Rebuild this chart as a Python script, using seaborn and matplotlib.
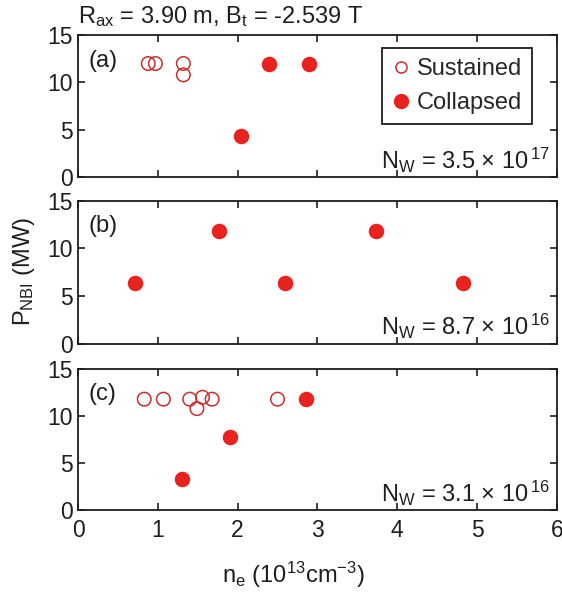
import matplotlib
matplotlib.use("Agg")
import matplotlib.pyplot as plt
import seaborn as sns
import pandas as pd
from matplotlib.lines import Line2D

# ---- data ----
a_sus_ne = [0.88, 0.97, 1.32, 1.32]
a_sus_p = [12.0, 12.0, 12.0, 10.8]
a_col_ne = [2.04, 2.39, 2.90]
a_col_p = [4.3, 12.0, 12.0]

b_sus_ne = []
b_sus_p = []
b_col_ne = [0.72, 1.77, 2.60, 3.74, 4.83]
b_col_p = [6.4, 11.8, 6.4, 11.8, 6.4]

c_sus_ne = [0.83, 1.07, 1.40, 1.56, 1.68, 1.49, 2.50]
c_sus_p = [11.8, 11.8, 11.8, 12.0, 11.8, 10.8, 11.8]
c_col_ne = [2.86, 1.90, 1.30]
c_col_p = [11.8, 7.8, 3.3]

panel_labels = ["(a)", "(b)", "(c)"]
nw_labels = [r"N$_{\rm W}$ = 3.5 × 10$^{\,17}$",
             r"N$_{\rm W}$ = 8.7 × 10$^{\,16}$",
             r"N$_{\rm W}$ = 3.1 × 10$^{\,16}$"]
x_ticks = [0, 1, 2, 3, 4, 5, 6]
y_ticks = [0, 5, 10, 15]

sns.set_theme(style="ticks")
plt.rcParams['font.family'] = ['Liberation Sans', 'DejaVu Sans']
plt.rcParams['mathtext.fontset'] = 'custom'
plt.rcParams['mathtext.rm'] = 'Liberation Sans'
plt.rcParams['mathtext.it'] = 'Liberation Sans:italic'
plt.rcParams['mathtext.default'] = 'regular'

RED = "#e8221f"
EDGE = "#c8302e"
FS = 17
TFS = 16.5
INK = "#1e1e1e"

fig = plt.figure(figsize=(5.62, 5.96), dpi=100)
rects = [
    [0.1388, 0.703, 0.852, 0.238],
    [0.1388, 0.4233, 0.852, 0.240],
    [0.1388, 0.1435, 0.852, 0.2374],
]
panels = [
    (a_sus_ne, a_sus_p, a_col_ne, a_col_p),
    (b_sus_ne, b_sus_p, b_col_ne, b_col_p),
    (c_sus_ne, c_sus_p, c_col_ne, c_col_p),
]
axes = []
for i, (r, (sx, sy, cx, cy)) in enumerate(zip(rects, panels)):
    ax = fig.add_axes(r)
    axes.append(ax)
    if len(sx):
        dfs = pd.DataFrame({"ne": sx, "p": sy})
        sns.scatterplot(data=dfs, x="ne", y="p", ax=ax, marker="o", s=95,
                        facecolors="none", edgecolor=EDGE, linewidth=1.1, zorder=3)
    dfc = pd.DataFrame({"ne": cx, "p": cy})
    sns.scatterplot(data=dfc, x="ne", y="p", ax=ax, marker="o", s=125,
                    color=RED, edgecolor=RED, linewidth=0, zorder=4)
    ax.set_xlim(0, 6)
    ax.set_ylim(0, 15)
    ax.set_xticks(x_ticks)
    ax.set_yticks(y_ticks)
    ax.tick_params(direction="in", top=True, right=True, length=5, width=1.2,
                   labelsize=TFS, colors=INK)
    ax.tick_params(axis="y", pad=3.5)
    ax.tick_params(axis="x", pad=6)
    for sp in ax.spines.values():
        sp.set_linewidth(1.3)
        sp.set_color(INK)
    ax.set_xlabel("")
    ax.set_ylabel("")
    if i < 2:
        ax.set_xticklabels([])
    ax.text(0.022, 0.82, panel_labels[i], transform=ax.transAxes, fontsize=FS,
            ha="left", va="center", color=INK)
    ax.text(0.985, 0.06, nw_labels[i], transform=ax.transAxes, fontsize=FS,
            ha="right", va="baseline", color=INK)

handles = [
    Line2D([], [], marker="o", linestyle="none", markerfacecolor="none",
           markeredgecolor=EDGE, markersize=8, markeredgewidth=1.1),
    Line2D([], [], marker="o", linestyle="none", markerfacecolor=RED,
           markeredgecolor=RED, markersize=10),
]
leg = axes[0].legend(handles, ["Sustained", "Collapsed"], loc="upper right",
                     bbox_to_anchor=(0.948, 0.908), borderaxespad=0,
                     fontsize=FS, frameon=True, framealpha=1,
                     fancybox=False, edgecolor=INK, handletextpad=0.25,
                     borderpad=0.42, labelspacing=0.5, handlelength=0.8)
leg.get_frame().set_linewidth(1.3)

fig.text(0.1388, 0.962, r"R$_{\rm ax}$ = 3.90 m, B$_{\rm t}$ = -2.539 T",
         fontsize=FS, ha="left", va="baseline", color=INK)
fig.text(0.042, 0.545, r"P$_{\rm NBI}$ (MW)", rotation=90, fontsize=FS,
         ha="center", va="center", color=INK)
fig.text(0.522, 0.022, r"n$_{\rm e}$ (10$^{13}$cm$^{-3}$)", fontsize=FS,
         ha="center", va="baseline", color=INK)

fig.savefig("out.png", dpi=100, facecolor="white")
